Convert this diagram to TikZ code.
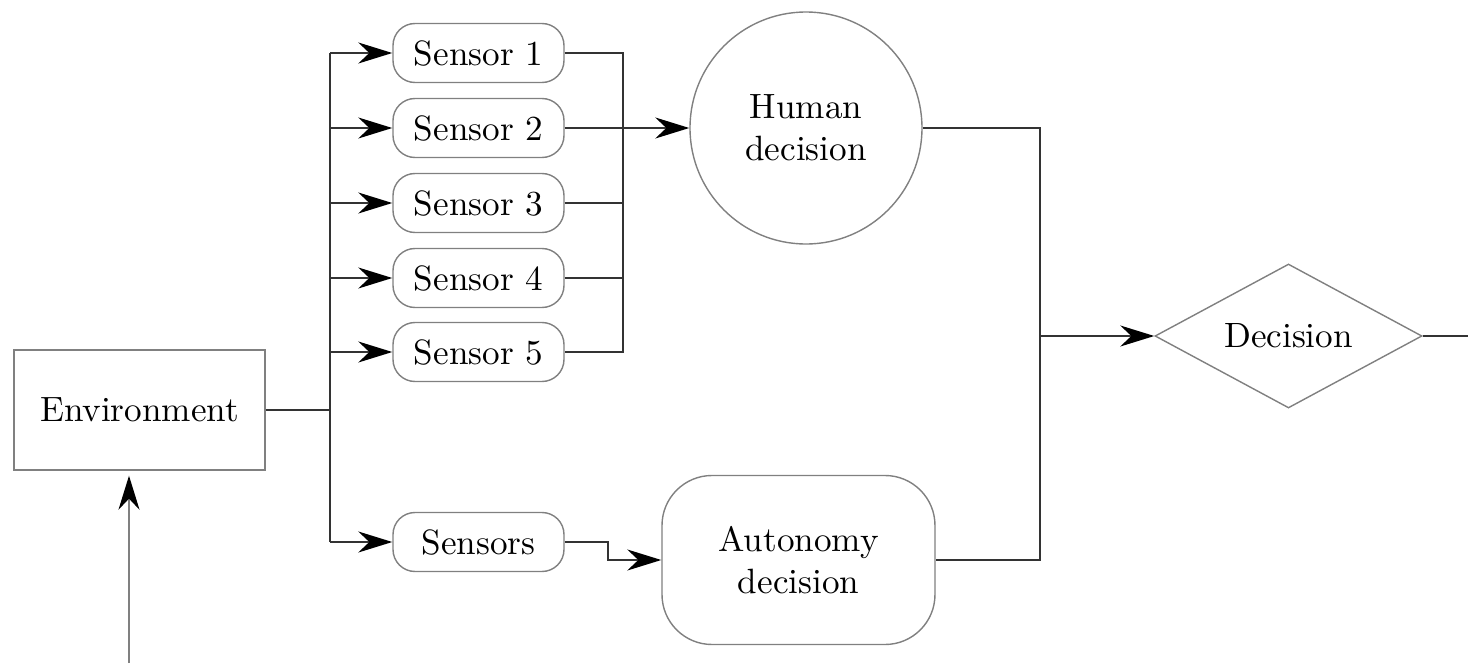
\documentclass[tikz,border=0pt]{standalone}
\usetikzlibrary{arrows.meta,shapes.geometric}
\begin{document}
\begin{tikzpicture}[
		sensorbox/.style={draw=black!50, rounded corners=0.22cm, minimum width=1.71cm, minimum height=0.59cm, inner sep=0pt},
		link/.style={draw=black!80, line width=0.6pt},
		arr/.style={link, -{Stealth[length=3.4mm, width=2.1mm, color=black]}}
	]
		\useasboundingbox (0,0) rectangle (14.68,6.63);

		% boxes
		\node[draw=black!50, minimum width=2.51cm, minimum height=1.2cm] (env) at (1.395,2.53) {Environment};
		\foreach \i/\y in {1/6.10, 2/5.35, 3/4.60, 4/3.85, 5/3.11}
			\node[sensorbox] (s\i) at (4.785,\y) {Sensor \i};
		\node[sensorbox] (sensors) at (4.785,1.21) {Sensors};
		\node[draw=black!50, circle, minimum size=2.32cm, align=center] (human) at (8.06,5.35) {Human\\decision};
		\node[draw=black!50, rounded corners=0.5cm, minimum width=2.73cm, minimum height=1.69cm, align=center] (auto) at (7.985,1.03) {Autonomy\\decision};
		\node[draw=black!50, diamond, shape aspect=1.85, minimum width=2.67cm, minimum height=1.44cm, inner sep=0pt] (dec) at (12.885,3.27) {Decision};

		% environment to the sensors
		\coordinate (split) at (3.30,2.53);
		\draw[link] (env) -- (split);
		\draw[link] (s1.west -| split) -- (sensors.west -| split);
		\foreach \i in {1,...,5}
			\draw[arr] (s\i.west -| split) -- (s\i.west);
		\draw[arr] (sensors.west -| split) -- (sensors.west);

		% sensors to the decisions
		\coordinate (join) at (6.23,0);
		\draw[link] (s1.east) -- (s1.east -| join) -- (s5.east -| join) -- (s5.east);
		\foreach \i in {2,3,4}
			\draw[link] (s\i.east) -- (s\i.east -| join);
		\draw[arr] (s2.east -| join) -- (human.west);
		\draw[arr] (sensors.east) -- ++(0.43,0) |- (auto.west);

		% decisions merge
		\coordinate (merge) at (10.40,0);
		\coordinate (out) at (14.68,3.27);
		\draw[link] (human.east) -| (merge |- auto.east) -- (auto.east);
		\draw[arr] (merge |- dec.west) -- (dec.west);
		\draw[link] (dec.east) -- (out);

		% feedback into the environment
		\coordinate (feed) at (1.29,0);
		\draw[draw=black!50, line width=0.6pt, -{Stealth[length=3.4mm, width=2.1mm, color=black]}, shorten >=0.5mm] (feed) -- (feed |- env.south);
	\end{tikzpicture}
\end{document}
